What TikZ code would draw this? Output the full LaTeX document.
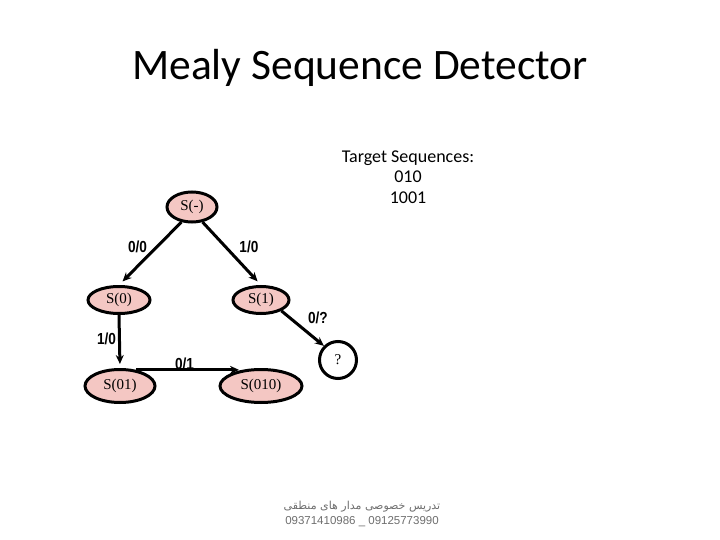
\documentclass[tikz,border=0pt]{standalone}
\usepackage{fontspec}
\setmainfont{Liberation Serif}
\newfontfamily\titlefont{Carlito}
\newfontfamily\edgefont{Liberation Sans}
\newfontfamily\footfont{Liberation Sans}
\newfontfamily\farsifont[Script=Arabic]{DejaVu Sans}
\TeXXeTstate=1
\usetikzlibrary{arrows.meta,positioning,shapes.geometric}
\definecolor{statefill}{HTML}{F4C7C3}
\definecolor{footgray}{HTML}{6E6E6E}
\newcommand{\io}[1]{\scalebox{0.85}[1]{#1}}
\tikzset{
  state/.style={ellipse, draw=black, line width=3pt, fill=statefill,
                inner sep=1pt, font=\fontsize{15}{17}\selectfont},
  unknown/.style={circle, draw=black, line width=3pt, fill=white,
                  minimum size=37pt, inner sep=0pt, font=\fontsize{15}{17}\selectfont},
  arrow/.style={-{Stealth[length=9pt,width=8pt]}, line width=3pt, draw=black},
  lbl/.style={font=\edgefont\bfseries\fontsize{16}{18}\selectfont, inner sep=1pt},
  note/.style={font=\titlefont\fontsize{18}{20.5}\selectfont, align=center}
}
\begin{document}
\begin{tikzpicture}[x=1pt, y=-1pt]
  \useasboundingbox (0,0) rectangle (720,540);

  \node[anchor=base, font=\titlefont\fontsize{43.5}{50}\selectfont] (title) at (360,80)
       {Mealy Sequence Detector};
  \node[note] (target) at (408,177) {Target Sequences:\\010\\1001};

  % states
  \node[state, minimum width=50pt, minimum height=30pt] (sn) at (192,207) {S(-)};
  \node[state, minimum width=62pt, minimum height=27pt] (s0) at (119,300) {S(0)};
  \node[state, minimum width=56pt, minimum height=27pt] (s1) at (261,300) {S(1)};
  \node[state, minimum width=70pt, minimum height=33pt] (s01) at (120,386) {S(01)};
  \node[state, minimum width=82pt, minimum height=33pt] (s010) at (261,386) {S(010)};
  \node[unknown] (q) at (338,360) {?};

  % the arrow tips stop short of the state they point at
  \draw[arrow, shorten >=5pt] (sn.235) -- node[lbl, pos=.4, left=7pt] {\io{0/0}} (s0.north);
  \draw[arrow, shorten >=5pt] (sn.-55) -- node[lbl, pos=.4, right=11pt] {\io{1/0}} (s1.north);
  \draw[arrow, shorten >=4pt] (s0.south) -- node[lbl, pos=.45, left=1pt] {\io{1/0}} (s01.north);
  \draw[arrow] (s01.45) -- node[lbl, above=-2pt, xshift=-3pt] {\io{0/1}} (s01.45 -| s010.145);
  \draw[arrow] (s1.-28) -- node[lbl, pos=.45, above right=0pt and 5pt] {\io{0/?}} (q.135);

  % footer
  \node[font=\farsifont\fontsize{11}{13}\selectfont, text=footgray] (farsi) at (362,507)
       {\beginR تدریس خصوصی مدار های منطقی\endR};
  \node[font=\footfont\fontsize{11.5}{13}\selectfont, text=footgray] (phone) at (362,522)
       {09371410986 \_ 09125773990};
\end{tikzpicture}
\end{document}
